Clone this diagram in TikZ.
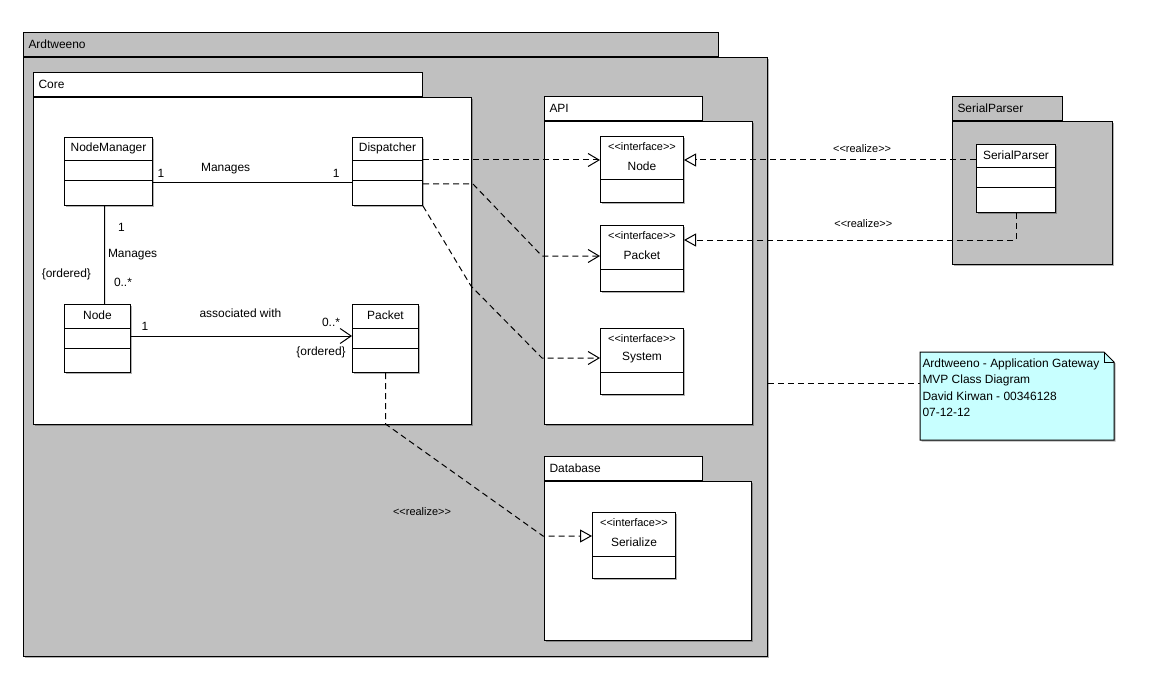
\documentclass[tikz,border=0pt]{standalone}
\usepackage{fontspec}
\setmainfont{Liberation Sans}[Ligatures=TeXOff]
\usetikzlibrary{arrows.meta,calc,shadows,positioning}

\definecolor{pkggray}{RGB}{192,192,192}
\definecolor{notecyan}{RGB}{200,255,255}

\newcommand{\umlst}[1]{\char"3C\kern0pt\char"3C\kern0pt#1\kern0pt\char"3E\kern0pt\char"3E}

\tikzset{
  box/.style={draw, inner sep=0pt, anchor=north west},
  shadowed/.style={drop shadow={shadow xshift=1.5bp, shadow yshift=-1.5bp, fill=black, opacity=0.3}},
  lbl/.style={font=\fontsize{12}{14}\selectfont, inner sep=0pt},
  stereo/.style={font=\fontsize{11}{13}\selectfont, inner sep=0pt},
  link/.style={dash pattern=on 6bp off 4bp},
  dep/.style={link, -{Straight Barb[length=11bp, width=13bp]}},
  realize/.style={link, -{Triangle[open, length=12bp, width=13bp, fill=white]}},
  assoc/.style={-{Straight Barb[length=11bp, width=15bp]}}
}

\newcommand{\umlpackage}[8]{%
  \node[box, fill=#7, minimum width=#4bp, minimum height=24bp] (#1-tab) at (#2,-#3) {};
  \node[lbl, anchor=west] (#1-name) at ($(#1-tab.west)+(5,0)$) {#8};
  \node[box, fill=#7, shadowed, minimum width=#5bp, minimum height=#6bp] (#1) at (#1-tab.south west) {};
}

\newcommand{\umlclass}[5]{%
  \node[box, fill=white, shadowed, minimum width=#4bp, minimum height=68bp] (#1) at (#2,-#3) {};
  \node[lbl] (#1-name) at ($(#1.north)+(0,-11)$) {#5};
  \draw ($(#1.north west)+(0,-24)$) -- ($(#1.north east)+(0,-24)$);
  \draw ($(#1.north west)+(0,-44)$) -- ($(#1.north east)+(0,-44)$);
}

\newcommand{\umliface}[5]{%
  \node[box, fill=white, shadowed, minimum width=#4bp, minimum height=66bp] (#1) at (#2,-#3) {};
  \node[stereo] (#1-st) at ($(#1.north)+(0,-11)$) {\umlst{interface}};
  \node[lbl] (#1-name) at ($(#1.north)+(0,-30)$) {#5};
  \draw ($(#1.north west)+(0,-44)$) -- ($(#1.north east)+(0,-44)$);
}

\begin{document}
\begin{tikzpicture}[x=1bp, y=1bp, line width=1bp]
    \useasboundingbox[fill=white] (0,0) rectangle (1154,-688);

    \umlpackage{ard}{23}{32}{695}{744}{599}{pkggray}{Ardtweeno}
    \umlpackage{core}{33}{72}{389}{438}{327}{white}{Core}
    \umlpackage{api}{544}{96}{158}{208}{303}{white}{API}
    \umlpackage{db}{544}{456}{158}{207}{159}{white}{Database}
    \umlpackage{sp}{952}{96}{110}{160}{143}{pkggray}{SerialParser}

    \umlclass{nodemgr}{64}{137}{88}{NodeManager}
    \umlclass{disp}{352}{137}{70}{Dispatcher}
    \umlclass{cnode}{64}{304}{66}{Node}
    \umlclass{cpacket}{352}{304}{66}{Packet}
    \umlclass{sparser}{976}{144}{79}{SerialParser}

    \umliface{inode}{600}{136}{83}{Node}
    \umliface{ipacket}{600}{225}{83}{Packet}
    \umliface{isystem}{600}{328}{83}{System}
    \umliface{serialize}{592}{512}{83}{Serialize}

    \draw ($(nodemgr.north east)+(0,-46)$) --
        node[lbl, pos=0.04, above=4.5bp] {1}
        node[lbl, pos=0.365, above=9bp] {Manages}
        node[lbl, pos=0.92, above=4.5bp] {1}
        ($(disp.north west)+(0,-46)$);
    \draw ($(nodemgr.south)+(-4,0)$) --
        node[lbl, pos=0.22, right=13bp] {1}
        node[lbl, pos=0.5, right=3bp] {Manages}
        node[lbl, pos=0.78, right=9bp] {0..*}
        node[lbl, pos=0.70, left=13bp] {\{ordered\}}
        ($(cnode.north)+(7,0)$);
    \draw[assoc] ($(cnode.north east)+(0,-32)$) --
        node[lbl, pos=0.063, above=5bp] {1}
        node[lbl, pos=0.495, above=18bp] {associated with}
        node[lbl, pos=0.905, above=9bp] {0..*}
        node[lbl, pos=0.86, below=10bp] {\{ordered\}}
        ($(cpacket.north west)+(0,-32)$);

    \draw[dep] ($(disp.north east)+(0,-23)$) -- ($(inode.north west)+(0,-24)$);
    \draw[dep] ($(disp.north east)+(0,-47)$) -- ++(50,0) -- ($(ipacket.north west)+(-58,-31)$) -- ($(ipacket.north west)+(0,-31)$);
    \draw[dep] (disp.south east) -- ++(48,-80) -- ($(isystem.north west)+(-58,-30)$) -- ($(isystem.north west)+(0,-30)$);

    \draw[realize] ($(sparser.north west)+(0,-16)$) --
        node[stereo, pos=0.39, above=7bp] {\umlst{realize}}
        ($(inode.north east)+(0,-24)$);
    \draw[realize] (sparser.south) |-
        node[stereo, pos=0.73, above=12bp] {\umlst{realize}}
        ($(ipacket.north east)+(0,-15)$);
    \draw[realize] (cpacket.south) -- ++(0,-51) -- ($(serialize.north west)+(-49,-24)$) -- ($(serialize.north west)+(0,-24)$);
    \node[stereo] (dbrealize) at (422,-512) {\umlst{realize}};

    \node[inner sep=0pt, minimum width=193bp, minimum height=87bp, anchor=north west] (note) at (920,-352) {};
    \draw[fill=notecyan, shadowed] (note.north west) -- ($(note.north east)+(-10,0)$) -- ($(note.north east)+(0,-10)$) -- (note.south east) -- (note.south west) -- cycle;
    \draw ($(note.north east)+(-10,0)$) |- ($(note.north east)+(0,-10)$);
    \node[lbl, anchor=north west, align=left, font=\fontsize{12}{16.5}\selectfont] (notetext) at ($(note.north west)+(2,-6)$)
        {Ardtweeno - Application Gateway\\MVP Class Diagram\\David Kirwan - 00346128\\07-12-12};
    \coordinate (notepin) at ($(note.north west)+(0,-31)$);
    \draw[link] (notepin -| ard.east) -- (notepin);

\end{tikzpicture}
\end{document}
